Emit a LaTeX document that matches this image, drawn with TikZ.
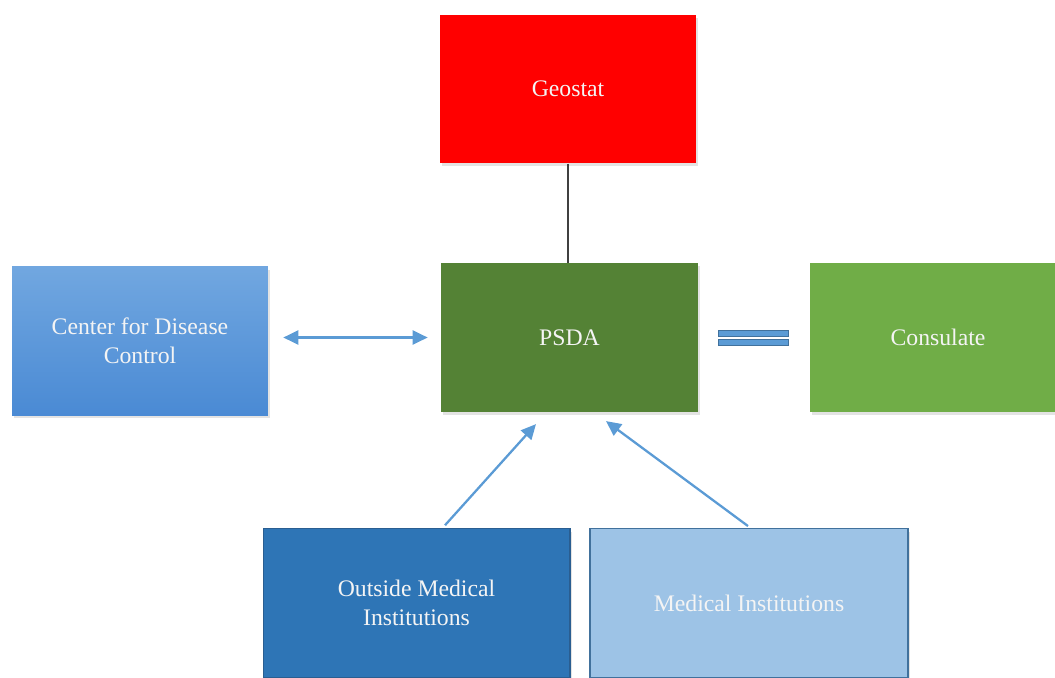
\documentclass[tikz,border=0pt]{standalone}
\usepackage{fontspec}
\setmainfont{Liberation Serif}
\usetikzlibrary{arrows.meta,calc,shadows}
\definecolor{geored}{HTML}{FF0000}
\definecolor{psdagreen}{HTML}{548235}
\definecolor{consgreen}{HTML}{70AD47}
\definecolor{cdctop}{HTML}{71A7E0}
\definecolor{cdcbottom}{HTML}{4A8AD4}
\definecolor{outblue}{HTML}{2E75B6}
\definecolor{outedge}{HTML}{2A5E91}
\definecolor{medblue}{HTML}{9DC3E6}
\definecolor{mededge}{HTML}{41719C}
\definecolor{linkblue}{HTML}{5B9BD5}
\definecolor{textwhite}{HTML}{F4F4F4}
\begin{document}
\begin{tikzpicture}[
        x=0.02cm, y=-0.02cm,
        agency/.style={draw=none, align=center, text=textwhite,
            font=\fontsize{13.5}{16.5}\selectfont,
            minimum width=5.14cm, minimum height=2.97cm, inner sep=0pt,
            drop shadow={opacity=0.22, shadow xshift=0.04cm, shadow yshift=-0.06cm}},
        arrow/.style={-{Triangle[length=0.3cm, width=0.28cm]}, linkblue, line width=1.3pt},
        biarrow/.style={{Triangle[length=0.3cm, width=0.28cm]}-{Triangle[length=0.3cm, width=0.28cm]}, linkblue, line width=1.3pt},
        eqbar/.style={fill=linkblue, draw=mededge, line width=0.5pt}
    ]
    \useasboundingbox (0,0) rectangle (1055,677);
    \clip (0,0) rectangle (1055,677);

    % Top node
    \node[agency, fill=geored] (geostat) at (568,89) {Geostat};

    % Middle row
    \node[agency, fill=psdagreen] (psda) at (569.5,337.5) {PSDA};
    \node[agency, top color=cdctop, bottom color=cdcbottom, minimum width=5.12cm] (cdc) at (140,341) {Center for Disease\\Control};
    \node[agency, fill=consgreen, minimum width=5.12cm] (consulate) at (938,337.5) {Consulate};

    % Bottom row
    \node[agency, fill=outblue, draw=outedge, line width=0.6pt, minimum width=6.14cm] (outside) at (416.5,603) {Outside Medical\\Institutions};
    \node[agency, fill=medblue, draw=mededge, line width=0.8pt, minimum width=6.36cm] (medical) at (749,603) {Medical Institutions};

    % Links
    \draw[black!75, line width=0.9pt] (geostat.south) -- (geostat.south |- psda.north);
    \draw[biarrow, shorten <=0.3cm, shorten >=0.26cm] (cdc.east |- psda.west) -- (psda.west);
    \draw[arrow] ($(outside.north)+(28.5,-3)$) -- ($(psda.south)+(-33.5,12)$);
    \draw[arrow] ($(medical.north)+(-1,-2)$) -- ($(psda.south)+(36.5,9)$);

    % Equal sign between PSDA and Consulate
    \draw[eqbar] ($(psda.east)+(20,-7.5)$) rectangle ++(70,6);
    \draw[eqbar] ($(psda.east)+(20,1.5)$) rectangle ++(70,6);

\end{tikzpicture}
\end{document}
